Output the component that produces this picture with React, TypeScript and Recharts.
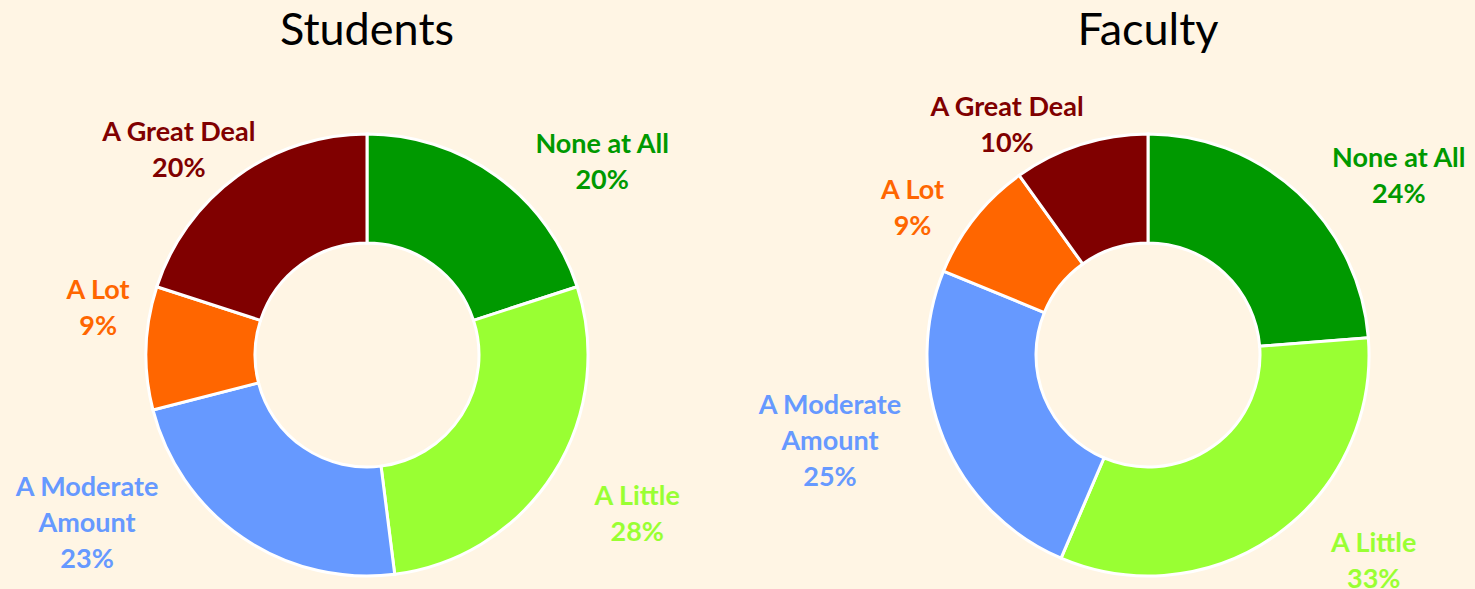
import React from 'react';
import { PieChart, Pie, Cell } from 'recharts';

// data
const categories = ['None at All', 'A Little', 'A Moderate Amount', 'A Lot', 'A Great Deal'];
const studentValues = [20, 28, 23, 9, 20];
const facultyValues = [24, 33, 25, 9, 10];
const sliceColors = ['#009900', '#99FF33', '#6699FF', '#FF6600', '#800000'];

// label placement: nudge from a point 60px outside the ring, along the slice mid angle
const studentNudge = [[70, 33], [33, 7], [-122, -66], [12, -40], [-23, 21]];
const facultyNudge = [[60, 26], [62, -24], [-58, -22], [-15, 26], [-55, 36]];

const BG = '#FFF5E4';
const FONT = 'Lato, "Open Sans", sans-serif';
const RAD = Math.PI / 180;

const splitName = (name: string) => {
    if (name.length <= 12) return [name];
    const cut = name.lastIndexOf(' ');
    return [name.slice(0, cut), name.slice(cut + 1)];
};

const makeLabel = (nudge: number[][]) => (props: any) => {
    const { cx, cy, midAngle, outerRadius, index, name, value } = props;
    const r = outerRadius + 60;
    const x = cx + r * Math.cos(-midAngle * RAD) + nudge[index][0];
    const y = cy + r * Math.sin(-midAngle * RAD) + nudge[index][1];
    const lines = [...splitName(name), `${value}%`];
    const lh = 36;
    return (
        <text
            x={x}
            y={y}
            textAnchor="middle"
            fill={sliceColors[index]}
            fontFamily={FONT}
            fontWeight={700}
            fontSize={27}
        >
            {lines.map((t, i) => (
                <tspan key={i} x={x} y={y + (i - (lines.length - 1) / 2) * lh} dominantBaseline="central">
                    {t}
                </tspan>
            ))}
        </text>
    );
};

const studentData = categories.map((name, i) => ({ name, value: studentValues[i] }));
const facultyData = categories.map((name, i) => ({ name, value: facultyValues[i] }));

const charts = [
    { title: 'Students', data: studentData, cx: 367, nudge: studentNudge },
    { title: 'Faculty', data: facultyData, cx: 1148, nudge: facultyNudge },
];

export default function App() {
    return (
        <div style={{ position: 'relative', width: 1475, height: 589, background: BG, overflow: 'hidden' }}>
            <style>{`body{margin:0;background:${BG}}`}</style>
            {charts.map((c) => (
                <div
                    key={c.title}
                    style={{
                        position: 'absolute',
                        left: c.cx - 200,
                        top: 3,
                        width: 400,
                        textAlign: 'center',
                        fontFamily: FONT,
                        fontSize: 45,
                        lineHeight: '50px',
                        color: '#000',
                    }}
                >
                    {c.title}
                </div>
            ))}
            <PieChart
                width={1475}
                height={589}
                margin={{ top: 0, right: 0, bottom: 0, left: 0 }}
                style={{ position: 'absolute', left: 0, top: 0 }}
            >
                {charts.map((c) => (
                    <Pie
                        key={c.title}
                        data={c.data}
                        dataKey="value"
                        nameKey="name"
                        cx={c.cx}
                        cy={355}
                        innerRadius={112}
                        outerRadius={221}
                        startAngle={90}
                        endAngle={-270}
                        stroke="#ffffff"
                        strokeWidth={3}
                        labelLine={false}
                        label={makeLabel(c.nudge)}
                        isAnimationActive={false}
                    >
                        {c.data.map((d, i) => (
                            <Cell key={d.name} fill={sliceColors[i]} />
                        ))}
                    </Pie>
                ))}
            </PieChart>
        </div>
    );
}
